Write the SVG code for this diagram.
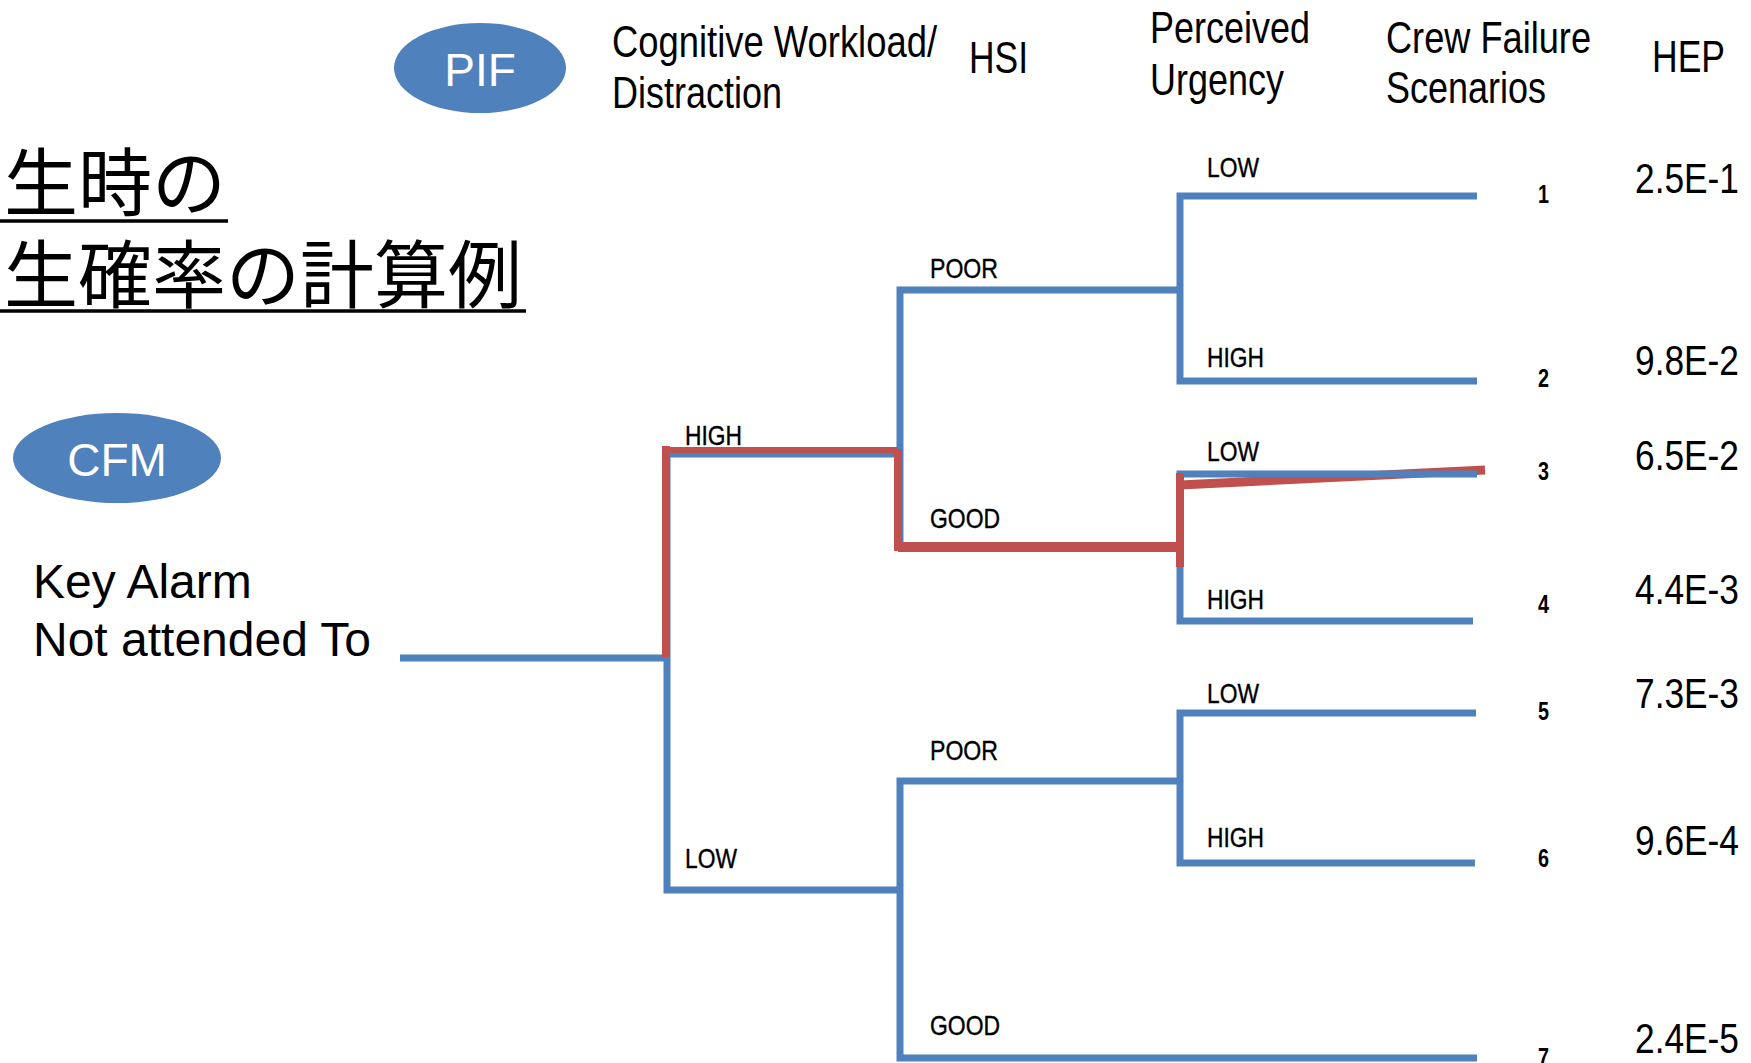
<svg xmlns="http://www.w3.org/2000/svg" width="1751" height="1063" viewBox="0 0 1751 1063">
<style>
.bg{fill:#ffffff}
.oval{fill:#4F81BD}
.ovt{font-family:"Liberation Sans",Arial,sans-serif;font-size:46px;fill:#ffffff;text-anchor:middle}
.ttl{font-family:"Noto Sans CJK JP","Noto Sans CJK SC",sans-serif;font-size:74px;fill:#000}
.uline{stroke:#000;stroke-width:3.5}
.hdr{font-family:"Liberation Sans",Arial,sans-serif;font-size:44px;fill:#000}
.cfm{font-family:"Liberation Sans",Arial,sans-serif;font-size:48px;fill:#000}
.lbl{font-family:"Liberation Sans",Arial,sans-serif;font-size:28px;fill:#000;stroke:#000;stroke-width:0.4}
.num{font-family:"Liberation Sans",Arial,sans-serif;font-size:25px;font-weight:bold;fill:#000}
.hep{font-family:"Liberation Sans",Arial,sans-serif;font-size:43px;fill:#000}
.br{fill:none;stroke:#4F81BD;stroke-width:7;stroke-linejoin:miter}
.rd{fill:none;stroke:#C0504D}
</style>
<rect class="bg" x="0" y="0" width="1751" height="1063"/>

<g id="title">
  <text class="ttl" x="4" y="210">生時の</text>
  <line class="uline" x1="0" y1="221" x2="228" y2="221"/>
  <text class="ttl" x="4" y="302">生確率の計算例</text>
  <line class="uline" x1="0" y1="311" x2="526" y2="311"/>
</g>

<g id="pif">
  <ellipse class="oval" cx="480" cy="68" rx="86" ry="45"/>
  <text class="ovt" x="480" y="86">PIF</text>
</g>

<g id="cfm">
  <ellipse class="oval" cx="117" cy="458" rx="104" ry="45"/>
  <text class="ovt" x="117" y="476">CFM</text>
</g>

<g id="headers">
  <text class="hdr" x="612" y="57" textLength="325" lengthAdjust="spacingAndGlyphs">Cognitive Workload/</text>
  <text class="hdr" x="612" y="108" textLength="170" lengthAdjust="spacingAndGlyphs">Distraction</text>
  <text class="hdr" x="969" y="73" textLength="59" lengthAdjust="spacingAndGlyphs">HSI</text>
  <text class="hdr" x="1150" y="43" textLength="160" lengthAdjust="spacingAndGlyphs">Perceived</text>
  <text class="hdr" x="1150" y="95" textLength="134" lengthAdjust="spacingAndGlyphs">Urgency</text>
  <text class="hdr" x="1386" y="53" textLength="205" lengthAdjust="spacingAndGlyphs">Crew Failure</text>
  <text class="hdr" x="1386" y="103" textLength="160" lengthAdjust="spacingAndGlyphs">Scenarios</text>
  <text class="hdr" x="1652" y="72" textLength="73" lengthAdjust="spacingAndGlyphs">HEP</text>
</g>

<g id="initiator">
  <text class="cfm" x="33" y="598">Key Alarm</text>
  <text class="cfm" x="33" y="656">Not attended To</text>
</g>

<g id="connectors">
  <path class="br" d="M400,658 H667"/>
  <path class="br" d="M900,454 H667 V890 H900"/>
  <path class="br" d="M1180,290 H900 V546 H1180"/>
  <path class="br" d="M1180,781 H900 V1058 H1477"/>
  <path class="br" d="M1477,196 H1180 V381 H1477"/>
  <path class="rd" stroke-width="9" d="M1180,485 L1485,470"/>
  <path class="br" d="M1477,474 H1180 V621 H1473"/>
  <path class="br" d="M1476,713 H1180 V863 H1475"/>
  <g id="critical-path">
    <path class="rd" stroke-width="8" d="M666,657 V446"/>
    <path class="rd" stroke-width="6" d="M663,450 H897"/>
    <path class="rd" stroke-width="8" d="M898,449 V551"/>
    <path class="rd" stroke-width="10" d="M898,547 H1180"/>
    <path class="rd" stroke-width="8" d="M1180,473 V567"/>
  </g>
</g>

<g id="labels">
  <text class="lbl" x="685" y="445" textLength="57" lengthAdjust="spacingAndGlyphs">HIGH</text>
  <text class="lbl" x="685" y="868" textLength="52" lengthAdjust="spacingAndGlyphs">LOW</text>
  <text class="lbl" x="930" y="278" textLength="68" lengthAdjust="spacingAndGlyphs">POOR</text>
  <text class="lbl" x="930" y="528" textLength="70" lengthAdjust="spacingAndGlyphs">GOOD</text>
  <text class="lbl" x="930" y="760" textLength="68" lengthAdjust="spacingAndGlyphs">POOR</text>
  <text class="lbl" x="930" y="1035" textLength="70" lengthAdjust="spacingAndGlyphs">GOOD</text>
  <text class="lbl" x="1207" y="177" textLength="52" lengthAdjust="spacingAndGlyphs">LOW</text>
  <text class="lbl" x="1207" y="367" textLength="57" lengthAdjust="spacingAndGlyphs">HIGH</text>
  <text class="lbl" x="1207" y="461" textLength="52" lengthAdjust="spacingAndGlyphs">LOW</text>
  <text class="lbl" x="1207" y="609" textLength="57" lengthAdjust="spacingAndGlyphs">HIGH</text>
  <text class="lbl" x="1207" y="703" textLength="52" lengthAdjust="spacingAndGlyphs">LOW</text>
  <text class="lbl" x="1207" y="847" textLength="57" lengthAdjust="spacingAndGlyphs">HIGH</text>
</g>

<g id="scenarios">
  <text class="num" x="1538" y="203" textLength="11" lengthAdjust="spacingAndGlyphs">1</text>
  <text class="num" x="1538" y="387" textLength="11" lengthAdjust="spacingAndGlyphs">2</text>
  <text class="num" x="1538" y="480" textLength="11" lengthAdjust="spacingAndGlyphs">3</text>
  <text class="num" x="1538" y="613" textLength="11" lengthAdjust="spacingAndGlyphs">4</text>
  <text class="num" x="1538" y="720" textLength="11" lengthAdjust="spacingAndGlyphs">5</text>
  <text class="num" x="1538" y="867" textLength="11" lengthAdjust="spacingAndGlyphs">6</text>
  <text class="num" x="1538" y="1066" textLength="11" lengthAdjust="spacingAndGlyphs">7</text>
</g>

<g id="hep-values">
  <text class="hep" x="1635" y="193" textLength="104" lengthAdjust="spacingAndGlyphs">2.5E-1</text>
  <text class="hep" x="1635" y="375" textLength="104" lengthAdjust="spacingAndGlyphs">9.8E-2</text>
  <text class="hep" x="1635" y="470" textLength="104" lengthAdjust="spacingAndGlyphs">6.5E-2</text>
  <text class="hep" x="1635" y="604" textLength="104" lengthAdjust="spacingAndGlyphs">4.4E-3</text>
  <text class="hep" x="1635" y="708" textLength="104" lengthAdjust="spacingAndGlyphs">7.3E-3</text>
  <text class="hep" x="1635" y="855" textLength="104" lengthAdjust="spacingAndGlyphs">9.6E-4</text>
  <text class="hep" x="1635" y="1053" textLength="104" lengthAdjust="spacingAndGlyphs">2.4E-5</text>
</g>
</svg>
